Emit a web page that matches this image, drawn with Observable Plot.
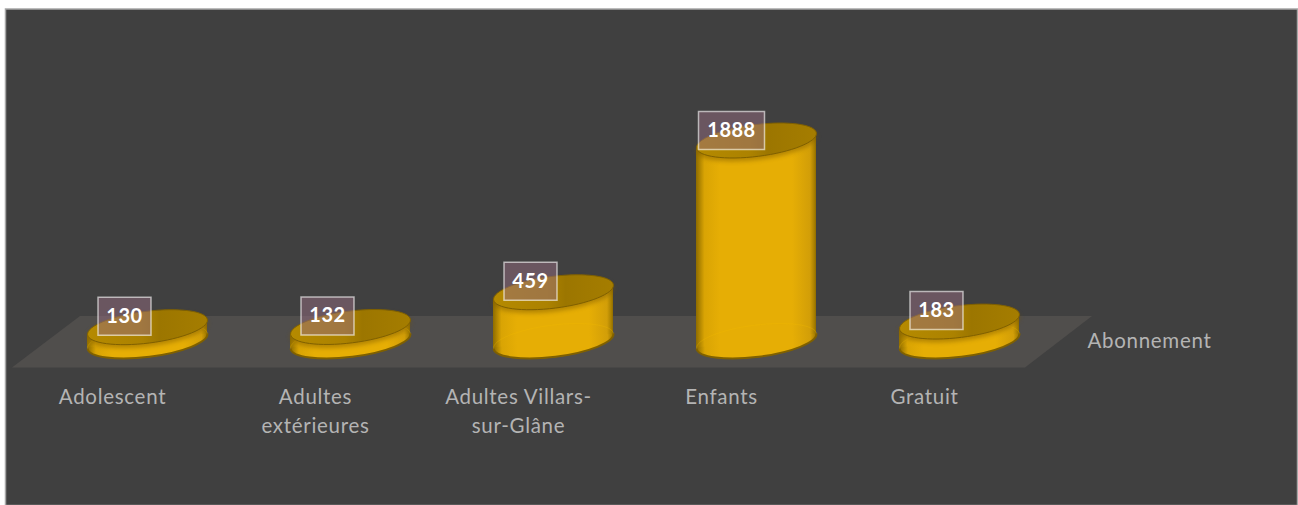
<!DOCTYPE html>
<html lang="fr">
<head>
<meta charset="utf-8">
<script src="https://cdn.jsdelivr.net/npm/d3@7"></script>
<script src="https://cdn.jsdelivr.net/npm/@observablehq/plot@0.6"></script>
<style>
  html, body { margin: 0; padding: 0; background: #fff; }
  svg { display: block; }
  g[fill="url(#cyl-body)"] rect {
    transform-box: fill-box;
    transform-origin: center;
    transform: skewY(-6.65deg);
  }
  g[fill="url(#cyl-lid)"] path {
    filter: drop-shadow(0 3px 2px rgba(120, 85, 0, .45));
  }
  g[font-size="20.5"] text { letter-spacing: 0.7px; }
  g[font-size="20"] text { letter-spacing: 0.5px; }
</style>
</head>
<body>
<div id="chart"></div>
<script>
const categories = ["Adolescent", "Adultes extérieures", "Adultes Villars-sur-Glâne", "Enfants", "Gratuit"];
const tickLabels = ["Adolescent", "Adultes\nextérieures", "Adultes Villars-\nsur-Glâne", "Enfants", "Gratuit"];
const values = [130, 132, 459, 1888, 183];
const seriesName = ["Abonnement"];

const rows = categories.map((category, i) => ({category, value: values[i], tick: tickLabels[i]}));

const a = 60.4, b = 15.9, t = -7.15 * Math.PI / 180, k = 0.5523;
const p = (u, v) => [u * a * Math.cos(t) - v * b * Math.sin(t), u * a * Math.sin(t) + v * b * Math.cos(t)];
const lowerArc = (ctx) => {
  ctx.moveTo(...p(1, 0));
  ctx.bezierCurveTo(...p(1, k), ...p(k, 1), ...p(0, 1));
  ctx.bezierCurveTo(...p(-k, 1), ...p(-1, k), ...p(-1, 0));
};
// Tilted ellipse seen in perspective, the face of each cylinder
const ellipse = {
  draw(ctx) {
    lowerArc(ctx);
    ctx.bezierCurveTo(...p(-1, -k), ...p(-k, -1), ...p(0, -1));
    ctx.bezierCurveTo(...p(k, -1), ...p(1, -k), ...p(1, 0));
    ctx.closePath();
  }
};
const halfEllipse = {draw: lowerArc};
// Parallelogram floor, anchored on the baseline of the middle category
const floorShape = {
  draw(ctx) {
    ctx.moveTo(-541.5, 26.5);
    ctx.lineTo(471.5, 26.5);
    ctx.lineTo(538.5, -25);
    ctx.lineTo(-473.5, -25);
    ctx.closePath();
  }
};
const box = (w) => ({
  draw(ctx) {
    ctx.moveTo(-w / 2, -19);
    ctx.lineTo(w / 2, -19);
    ctx.lineTo(w / 2, 19);
    ctx.lineTo(-w / 2, 19);
    ctx.closePath();
  }
});

const gradient = (id, stops) => () => {
  const g = d3.create("svg:linearGradient").attr("id", id).attr("x1", 0).attr("x2", 1).attr("y1", 0).attr("y2", 0);
  stops.forEach(([o, c]) => g.append("stop").attr("offset", o).attr("stop-color", c));
  const defs = d3.create("svg:defs");
  defs.append(() => g.node());
  return defs.node();
};

const bodyStops = [[0, "#8f6c00"], [0.025, "#a98000"], [0.07, "#d9a404"], [0.2, "#e6ae05"], [0.8, "#e6ae05"], [0.95, "#d29e08"], [0.985, "#a98000"], [1, "#8f6c00"]];
const textFont = "Lato";
const plot = Plot.plot({
  width: 1298,
  height: 505,
  marginTop: 8.5,
  marginLeft: 5,
  marginRight: 1,
  marginBottom: 0,
  x: {domain: categories, range: [87, 1019], paddingInner: 0.409, paddingOuter: 0, axis: null},
  y: {domain: [0, 1888], range: [340.5, 140], axis: null},
  marks: [
    gradient("cyl-body", bodyStops),
    gradient("cyl-foot", bodyStops),
    gradient("cyl-lid", [[0, "#b58a00"], [0.45, "#ac8200"], [0.6, "#9c7600"], [1, "#a57d00"]]),
    Plot.frame({fill: "#404040", stroke: "#a6a6a6", strokeWidth: 1.5}),
    Plot.dot(["Adultes Villars-sur-Glâne"], {x: d => d, y: () => 0, r: 1, symbol: floorShape, fill: "#504e4c", stroke: "none"}),
    Plot.dot(rows, {x: "category", y: () => 0, r: 1, symbol: ellipse, fill: "url(#cyl-foot)", stroke: "none"}),
    Plot.barY(rows, {x: "category", y: "value", fill: "url(#cyl-body)"}),
    Plot.dot(rows, {x: "category", y: () => 0, r: 1, symbol: ellipse, fill: "none", stroke: "#f2b800", strokeOpacity: 0.3, strokeWidth: 1}),
    Plot.dot(rows, {x: "category", y: () => 0, r: 1, symbol: halfEllipse, fill: "none", stroke: "#7f6000", strokeWidth: 2}),
    Plot.dot(rows, {x: "category", y: "value", r: 1, symbol: ellipse, fill: "url(#cyl-lid)", stroke: "#7f6000", strokeWidth: 1}),
    Plot.dot(rows.filter(d => d.value < 1000), {x: "category", y: "value", dx: -23, dy: -11, r: 1, symbol: box(53), fill: "#946c80", fillOpacity: 0.5, stroke: "#fff", strokeOpacity: 0.6, strokeWidth: 1.5}),
    Plot.dot(rows.filter(d => d.value >= 1000), {x: "category", y: "value", dx: -25, dy: -10, r: 1, symbol: box(66), fill: "#946c80", fillOpacity: 0.5, stroke: "#fff", strokeOpacity: 0.6, strokeWidth: 1.5}),
    Plot.text(rows.filter(d => d.value < 1000), {x: "category", y: "value", dx: -23, dy: -11, text: d => String(d.value), fill: "#fff", fontFamily: textFont, fontWeight: 700, fontSize: 20}),
    Plot.text(rows.filter(d => d.value >= 1000), {x: "category", y: "value", dx: -25, dy: -10, text: d => String(d.value), fill: "#fff", fontFamily: textFont, fontWeight: 700, fontSize: 20}),
    Plot.text(rows, {x: "category", y: () => 0, dx: -35, dy: 43, lineAnchor: "top", text: "tick", fill: "#b4b4b4", fontFamily: textFont, fontSize: 20.5, lineHeight: 1.39}),
    Plot.text(seriesName, {x: () => "Gratuit", y: () => 0, dx: 128, text: d => d, textAnchor: "start", fill: "#b4b4b4", fontFamily: textFont, fontSize: 20.5})
  ]
});
document.getElementById("chart").append(plot);
</script>
</body>
</html>
